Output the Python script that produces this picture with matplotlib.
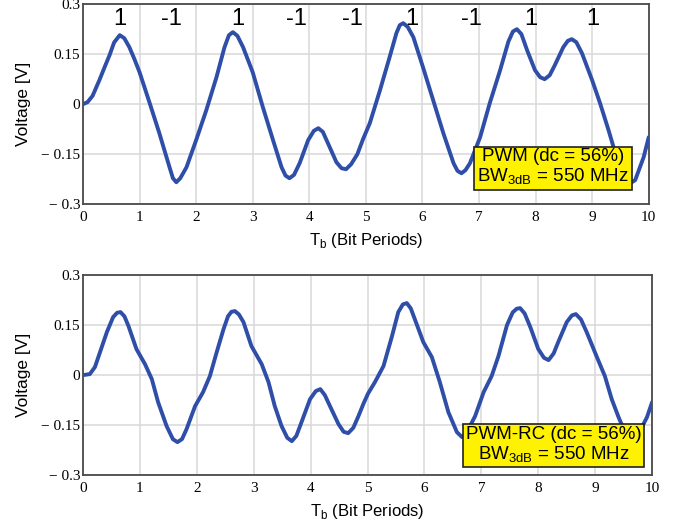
import numpy as np
import matplotlib
matplotlib.use("Agg")
import matplotlib.pyplot as plt

# --- valores ---
pwm_t = [0, 0.08, 0.17, 0.29, 0.38, 0.47, 0.55, 0.65, 0.73, 0.82, 0.91, 1.0,
         1.18, 1.35, 1.53, 1.59, 1.65, 1.72, 1.83, 2.0, 2.18, 2.36, 2.5, 2.58,
         2.65, 2.73, 2.83, 3.0, 3.18, 3.36, 3.51, 3.58, 3.65, 3.73, 3.83, 3.98,
         4.08, 4.16, 4.24, 4.33, 4.48, 4.57, 4.65, 4.74, 4.85, 4.95, 5.07, 5.25,
         5.42, 5.54, 5.6, 5.66, 5.74, 5.84, 6.01, 6.19, 6.37, 6.55, 6.62, 6.69,
         6.76, 6.84, 7.02, 7.19, 7.37, 7.52, 7.6, 7.67, 7.75, 7.85, 7.99, 8.08,
         8.16, 8.25, 8.34, 8.49, 8.57, 8.64, 8.72, 8.82, 9.0, 9.14, 9.29, 9.45,
         9.55, 9.64, 9.76, 9.91, 10.0]
pwm_v = [0, 0.006, 0.025, 0.072, 0.11, 0.147, 0.185, 0.207, 0.198, 0.171, 0.135, 0.096,
         0.003, -0.087, -0.189, -0.222, -0.234, -0.222, -0.189, -0.108, -0.018, 0.081, 0.17, 0.207,
         0.216, 0.205, 0.171, 0.096, -0.009, -0.108, -0.189, -0.214, -0.222, -0.212, -0.177, -0.108,
         -0.080, -0.072, -0.083, -0.117, -0.174, -0.192, -0.195, -0.180, -0.150, -0.105, -0.057, 0.042,
         0.141, 0.213, 0.237, 0.243, 0.232, 0.201, 0.111, 0.012, -0.087, -0.177, -0.200, -0.207,
         -0.198, -0.177, -0.099, 0.003, 0.100, 0.188, 0.218, 0.225, 0.210, 0.162, 0.102, 0.081,
         0.075, 0.087, 0.117, 0.171, 0.190, 0.195, 0.186, 0.153, 0.072, 0.003, -0.078, -0.17,
         -0.22, -0.24, -0.228, -0.159, -0.099]

rc_t = [0, 0.12, 0.21, 0.30, 0.42, 0.53, 0.60, 0.66, 0.73, 0.80, 0.94, 1.09,
        1.21, 1.32, 1.47, 1.58, 1.66, 1.74, 1.82, 1.97, 2.11, 2.23, 2.35, 2.47,
        2.55, 2.61, 2.67, 2.74, 2.82, 2.96, 3.14, 3.26, 3.37, 3.49, 3.59, 3.67,
        3.75, 3.84, 3.99, 4.09, 4.17, 4.25, 4.34, 4.49, 4.58, 4.66, 4.75, 4.84,
        4.93, 5.01, 5.13, 5.28, 5.43, 5.54, 5.62, 5.69, 5.76, 5.83, 5.98, 6.13,
        6.27, 6.42, 6.57, 6.66, 6.75, 6.89, 7.04, 7.18, 7.30, 7.45, 7.55, 7.62,
        7.68, 7.76, 7.86, 8.0, 8.10, 8.18, 8.27, 8.35, 8.50, 8.59, 8.66, 8.75,
        8.85, 9.03, 9.17, 9.29, 9.41, 9.52, 9.62, 9.72, 9.81, 9.91, 10.0]
rc_v = [0, 0.003, 0.024, 0.069, 0.129, 0.174, 0.187, 0.189, 0.176, 0.147, 0.078, 0.033,
        -0.012, -0.081, -0.153, -0.192, -0.201, -0.192, -0.162, -0.093, -0.051, -0.003, 0.069, 0.138,
        0.177, 0.190, 0.192, 0.182, 0.159, 0.087, 0.033, -0.021, -0.093, -0.153, -0.188, -0.198,
        -0.182, -0.141, -0.072, -0.048, -0.042, -0.060, -0.093, -0.147, -0.170, -0.174, -0.158, -0.123,
        -0.085, -0.055, -0.021, 0.027, 0.117, 0.189, 0.212, 0.216, 0.200, 0.168, 0.099, 0.054,
        -0.021, -0.111, -0.171, -0.186, -0.17, -0.123, -0.051, -0.003, 0.057, 0.150, 0.188, 0.199,
        0.201, 0.185, 0.144, 0.078, 0.052, 0.045, 0.065, 0.099, 0.159, 0.179, 0.183, 0.167,
        0.129, 0.054, -0.003, -0.072, -0.126, -0.17, -0.195, -0.19, -0.16, -0.126, -0.081]

bits = ["1", "-1", "1", "-1", "-1", "1", "-1", "1", "1"]
bits_t = [0.65, 1.56, 2.74, 3.77, 4.77, 5.81, 6.87, 7.92, 9.01]

x_ticks = list(range(0, 11))
y_ticks = [-0.3, -0.15, 0, 0.15, 0.3]
y_tick_labels = ["\u2212 0.3", "\u2212 0.15", "0", "0.15", "0.3"]

cor_linha = "#2f4ea8"
serif = "Liberation Serif"
sans = "Liberation Sans"

fig = plt.figure(figsize=(6.8, 5.21), dpi=100)
ax1 = fig.add_axes([0.122, 0.608, 0.832, 0.384])
ax2 = fig.add_axes([0.122, 0.088, 0.837, 0.384])


def formatar(ax):
    ax.set_xlim(0, 10)
    ax.set_ylim(-0.3, 0.3)
    ax.set_xticks(x_ticks)
    ax.set_xticklabels([str(x) for x in x_ticks], family=serif, fontsize=11)
    ax.set_yticks(y_ticks)
    ax.set_yticklabels(y_tick_labels, family=serif, fontsize=11)
    ax.tick_params(length=0)
    ax.tick_params(axis="y", pad=2)
    ax.tick_params(axis="x", pad=5)
    ax.grid(True, color="#d9d9d9", lw=1.1)
    ax.set_axisbelow(True)
    for s in ax.spines.values():
        s.set_color("#4a4a4a")
        s.set_linewidth(1.3)
    ax.set_xlabel("T$_{\\mathregular{b}}$ (Bit Periods)", family=sans, fontsize=12, labelpad=5)
    ax.set_ylabel("Voltage [V]", family=sans, fontsize=12.5, labelpad=7)


ax1.plot(pwm_t, pwm_v, color=cor_linha, lw=2.8, solid_capstyle="round", zorder=3)
formatar(ax1)
for b, t in zip(bits, bits_t):
    ax1.text(t, 0.255, b, ha="center", va="center", family=sans, fontsize=17)
ax1.text(8.31, -0.19, "PWM (dc = 56%)\nBW$_{\\mathregular{3dB}}$ = 550 MHz",
         ha="center", va="center", family=sans, fontsize=13.5, zorder=5, linespacing=1.1,
         bbox=dict(boxstyle="square,pad=0.15", fc="#fff200", ec="#222222", lw=1.2))

ax2.plot(rc_t, rc_v, color=cor_linha, lw=2.8, solid_capstyle="round", zorder=3)
formatar(ax2)
ax2.text(8.27, -0.21, "PWM-RC (dc = 56%)\nBW$_{\\mathregular{3dB}}$ = 550 MHz",
         ha="center", va="center", family=sans, fontsize=13.5, zorder=5, linespacing=1.1,
         bbox=dict(boxstyle="square,pad=0.15", fc="#fff200", ec="#222222", lw=1.2))

fig.savefig("out.png", dpi=100)
